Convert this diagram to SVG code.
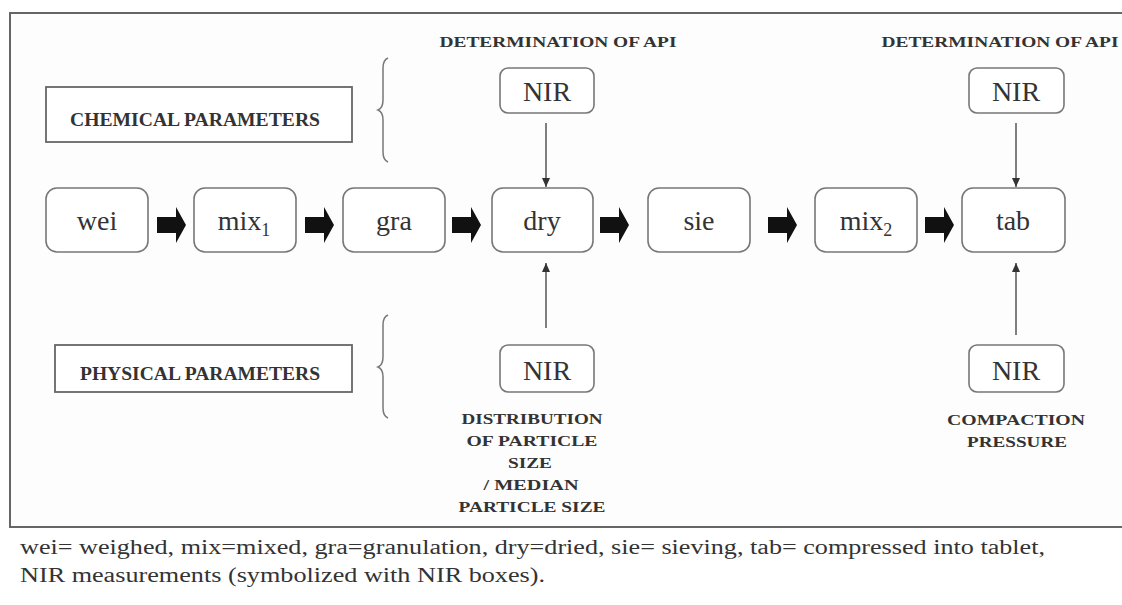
<svg xmlns="http://www.w3.org/2000/svg" width="1122" height="605" viewBox="0 0 1122 605">
<defs>
<style>
.box{fill:#fff;stroke:#777;stroke-width:1.6}
.pbox{fill:#fff;stroke:#666;stroke-width:1.8}
.t{font-family:"Liberation Serif","Times New Roman",serif;font-size:28px;fill:#333;text-anchor:middle}
.sub{font-size:18px}
.b{font-family:"Liberation Serif","Times New Roman",serif;font-weight:bold;font-size:15px;fill:#333;text-anchor:middle}
.bl{font-family:"Liberation Serif","Times New Roman",serif;font-weight:bold;font-size:18px;fill:#333}
.cap{font-family:"Liberation Serif","Times New Roman",serif;font-size:20px;fill:#333}
.thin{stroke:#555;stroke-width:1.5;fill:none}
.brace{stroke:#777;stroke-width:1.5;fill:none}
.blk{fill:#111}
</style>
<marker id="ah" markerUnits="userSpaceOnUse" markerWidth="10" markerHeight="10" refX="9" refY="5" orient="auto">
<path d="M0,1 L9,5 L0,9 Z" fill="#333"/>
</marker>
</defs>
<rect x="0" y="0" width="1122" height="605" fill="#fff"/>
<rect x="10" y="13" width="1130" height="514" fill="#fdfdfd" stroke="#666" stroke-width="2"/>

<g id="chemical">
<rect class="pbox" x="46" y="87" width="306" height="55"/>
<text class="bl" x="70" y="126" textLength="250" lengthAdjust="spacingAndGlyphs">CHEMICAL PARAMETERS</text>
<path class="brace" d="M388,58 Q383,60 383,68 V100 Q383,108 378,110 Q383,112 383,120 V152 Q383,160 388,162"/>
</g>
<g id="physical">
<rect class="pbox" x="55" y="345" width="297" height="47"/>
<text class="bl" x="80" y="380" textLength="240" lengthAdjust="spacingAndGlyphs">PHYSICAL PARAMETERS</text>
<path class="brace" d="M388,315 Q383,317 383,325 V357 Q383,365 378,367 Q383,369 383,377 V408 Q383,416 388,418"/>
</g>

<g id="wei"><rect class="box" x="46" y="188" width="102" height="64" rx="11"/><text class="t" x="97" y="230">wei</text></g>
<g id="mix1"><rect class="box" x="194" y="188" width="102" height="64" rx="11"/><text class="t" x="244" y="230">mix<tspan class="sub" dy="6">1</tspan></text></g>
<g id="gra"><rect class="box" x="343" y="188" width="102" height="64" rx="11"/><text class="t" x="394" y="230">gra</text></g>
<g id="dry"><rect class="box" x="492" y="188" width="101" height="64" rx="11"/><text class="t" x="542" y="230">dry</text></g>
<g id="sie"><rect class="box" x="648" y="188" width="102" height="64" rx="11"/><text class="t" x="699" y="230">sie</text></g>
<g id="mix2"><rect class="box" x="815" y="188" width="102" height="64" rx="11"/><text class="t" x="866" y="230">mix<tspan class="sub" dy="6">2</tspan></text></g>
<g id="tab"><rect class="box" x="962" y="188" width="103" height="64" rx="11"/><text class="t" x="1013" y="230">tab</text></g>

<g id="nir-dry-top">
<text class="b" x="558" y="47" textLength="237" lengthAdjust="spacingAndGlyphs">DETERMINATION OF API</text>
<rect class="box" x="500" y="68" width="94" height="45" rx="8"/><text class="t" x="547" y="101">NIR</text>
</g>
<g id="nir-tab-top">
<text class="b" x="1000" y="47" textLength="237" lengthAdjust="spacingAndGlyphs">DETERMINATION OF API</text>
<rect class="box" x="969" y="68" width="95" height="45" rx="8"/><text class="t" x="1016" y="101">NIR</text>
</g>
<g id="nir-dry-bottom">
<rect class="box" x="500" y="345" width="94" height="47" rx="8"/><text class="t" x="547" y="380">NIR</text>
<text class="b" x="532" y="424" textLength="141" lengthAdjust="spacingAndGlyphs">DISTRIBUTION</text>
<text class="b" x="532" y="446" textLength="131" lengthAdjust="spacingAndGlyphs">OF PARTICLE</text>
<text class="b" x="530" y="468" textLength="44" lengthAdjust="spacingAndGlyphs">SIZE</text>
<text class="b" x="531" y="490" textLength="95" lengthAdjust="spacingAndGlyphs">/ MEDIAN</text>
<text class="b" x="532" y="512" textLength="147" lengthAdjust="spacingAndGlyphs">PARTICLE SIZE</text>
</g>
<g id="nir-tab-bottom">
<rect class="box" x="969" y="345" width="95" height="47" rx="8"/><text class="t" x="1016" y="380">NIR</text>
<text class="b" x="1016" y="425" textLength="138" lengthAdjust="spacingAndGlyphs">COMPACTION</text>
<text class="b" x="1017" y="447" textLength="100" lengthAdjust="spacingAndGlyphs">PRESSURE</text>
</g>

<g id="connectors">
<path class="blk" d="M157,217 h19 v-10 l10,18 l-10,18 v-10 h-19 z"/>
<path class="blk" d="M305,217 h19 v-10 l10,18 l-10,18 v-10 h-19 z"/>
<path class="blk" d="M452,217 h19 v-10 l10,18 l-10,18 v-10 h-19 z"/>
<path class="blk" d="M600,217 h19 v-10 l10,18 l-10,18 v-10 h-19 z"/>
<path class="blk" d="M768,217 h19 v-10 l10,18 l-10,18 v-10 h-19 z"/>
<path class="blk" d="M925,217 h19 v-10 l10,18 l-10,18 v-10 h-19 z"/>
<line class="thin" x1="546" y1="123" x2="546" y2="187" marker-end="url(#ah)"/>
<line class="thin" x1="1016" y1="123" x2="1016" y2="187" marker-end="url(#ah)"/>
<line class="thin" x1="546" y1="328" x2="546" y2="263" marker-end="url(#ah)"/>
<line class="thin" x1="1016" y1="335" x2="1016" y2="263" marker-end="url(#ah)"/>
</g>

<g id="caption">
<text class="cap" x="20" y="554" textLength="1025" lengthAdjust="spacingAndGlyphs">wei= weighed, mix=mixed, gra=granulation, dry=dried, sie= sieving, tab= compressed into tablet,</text>
<text class="cap" x="20" y="582" textLength="525" lengthAdjust="spacingAndGlyphs">NIR measurements (symbolized with NIR boxes).</text>
</g>
</svg>
